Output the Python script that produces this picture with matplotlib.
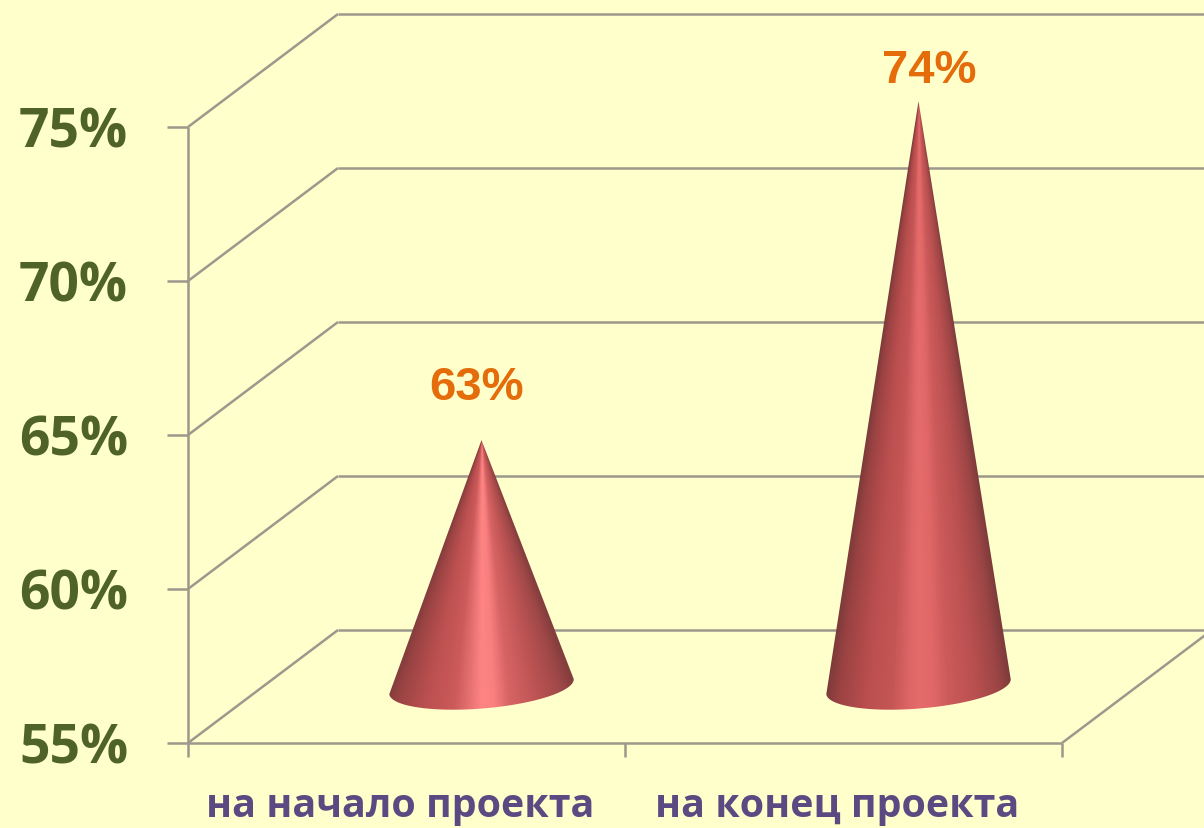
import numpy as np
import matplotlib.pyplot as plt
from matplotlib.colors import LinearSegmentedColormap
from matplotlib.patches import PathPatch
from matplotlib.path import Path

categories = ["на начало проекта", "на конец проекта"]
values = [63, 74]
value_labels = ["63%", "74%"]
y_ticks = [55, 60, 65, 70, 75]
y_tick_labels = ["55%", "60%", "65%", "70%", "75%"]

bg = "#FFFFCC"
grid_color = "#9C988C"

# scale of the plot in pixels
px_x = 437.0
px_y = 30.8
W, H = 1204, 829
x0_px, y0_px = 188, 744

# depth of the fake 3d box, in data units
depth_x = 150 / px_x
depth_y = 113 / px_y

# cone base (tilted ellipse), pixels
base_a = 92.5
base_b = 22
tilt = np.radians(4.7)

shades = [
    [(0.0, "#7E3B3B"), (0.07, "#9A4343"), (0.22, "#BC5050"), (0.36, "#CC5A5A"),
     (0.44, "#E87272"), (0.5, "#FF8585"), (0.56, "#FA8080"), (0.64, "#D86464"),
     (0.78, "#BE5454"), (0.92, "#A04848"), (1.0, "#843D3D")],
    [(0.0, "#7A3A3A"), (0.07, "#9A4242"), (0.22, "#BA4E4E"), (0.36, "#C65656"),
     (0.45, "#DE6666"), (0.5, "#E66C6C"), (0.57, "#E26868"), (0.66, "#CC5A5A"),
     (0.8, "#BA5050"), (0.93, "#9C4545"), (1.0, "#7D3B3B")],
]

fig = plt.figure(figsize=(W / 100, H / 100), dpi=100, facecolor=bg)
ax = fig.add_axes([0, 0, 1, 1])
ax.set_xlim(-x0_px / px_x, (W - x0_px) / px_x)
ax.set_ylim(55 - (H - y0_px) / px_y, 55 + y0_px / px_y)
ax.axis("off")

n_cat = len(categories)
line = dict(color=grid_color, lw=1.8, solid_capstyle="butt", zorder=1)

# walls
for v in y_ticks:
    ax.plot([0, depth_x], [v, v + depth_y], **line)
    ax.plot([depth_x, n_cat + depth_x], [v + depth_y] * 2, **line)
    ax.plot([-21 / px_x, 0], [v, v], **line)
ax.plot([0, 0], [55, 75], **line)
ax.plot([0, n_cat], [55, 55], **line)
ax.plot([n_cat, n_cat + depth_x], [55, 55 + depth_y], **line)
for i in range(n_cat + 1):
    ax.plot([i, i], [55, 55 - 14 / px_y], **line)

for v, lab in zip(y_ticks, y_tick_labels):
    ax.text(-60 / px_x, v - 0.18, lab, ha="right", va="center", fontsize=38.5,
            fontweight="bold", family="Open Sans", color="#4F6228")

label_offsets = [(-5, 57), (11, 35)]

for i, (v, cat) in enumerate(zip(values, categories)):
    cx = i + 0.5 + depth_x / 2
    cy = 55 + depth_y / 2
    tip_y = v + depth_y / 2

    t = np.linspace(np.pi, 2 * np.pi, 121)
    ex = base_a * np.cos(t) * np.cos(tilt) - base_b * np.sin(t) * np.sin(tilt)
    ey = base_a * np.cos(t) * np.sin(tilt) + base_b * np.sin(t) * np.cos(tilt)
    bx = cx + ex / px_x
    by = cy + ey / px_y

    # shading runs along the rays from the tip to the base
    xmin, xmax = bx.min() - 0.01, bx.max() + 0.01
    ymin, ymax = by.min() - 0.1, tip_y + 0.1
    gx, gy = np.meshgrid(np.linspace(xmin, xmax, 600), np.linspace(ymin, ymax, 1800))
    along = np.maximum((tip_y - gy) / (tip_y - cy), 1e-3)
    frac = np.clip(((gx - cx) * px_x / along + base_a) / (2 * base_a), 0, 1)
    cmap = LinearSegmentedColormap.from_list("cone", shades[i])
    img = ax.imshow(frac, cmap=cmap, vmin=0, vmax=1, origin="lower", aspect="auto",
                    extent=(xmin, xmax, ymin, ymax), interpolation="bilinear", zorder=3)

    verts = [(cx, tip_y)] + list(zip(bx, by)) + [(cx, tip_y)]
    codes = [Path.MOVETO] + [Path.LINETO] * len(bx) + [Path.CLOSEPOLY]
    clip = PathPatch(Path(verts, codes), transform=ax.transData, fc="none", ec="none")
    ax.add_patch(clip)
    img.set_clip_path(clip)

    dx, dy = label_offsets[i]
    ax.annotate(value_labels[i], (cx, tip_y), xytext=(dx * 0.72, dy * 0.72 - 2.5), textcoords="offset points",
                ha="center", va="center", fontsize=34, fontweight="bold",
                family="Liberation Sans", color="#E46C0A", zorder=4)

# imshow resets the limits
ax.set_xlim(-x0_px / px_x, (W - x0_px) / px_x)
ax.set_ylim(55 - (H - y0_px) / px_y, 55 + y0_px / px_y)

ax.text(0.5 - 6 / px_x, 55 - 63 / px_y, categories[0], ha="center", va="center", fontsize=28.4,
        fontweight="bold", family="Open Sans", color="#5B4A82")
ax.text(1.5 - 6.5 / px_x, 55 - 63 / px_y, categories[1], ha="center", va="center", fontsize=28.4,
        fontweight="bold", family="Open Sans", color="#5B4A82")

fig.savefig("out.png", dpi=100, facecolor=bg)
